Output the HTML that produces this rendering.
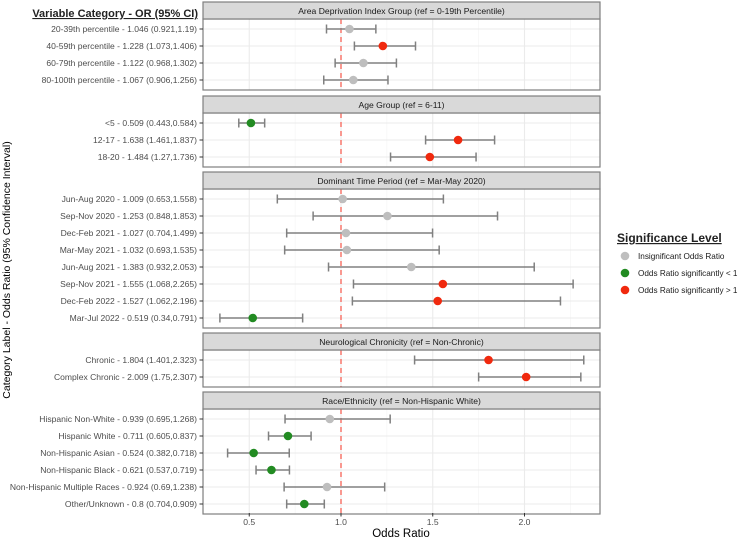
<!DOCTYPE html>
<html><head><meta charset="utf-8"><style>
body{margin:0;background:#fff;}
svg{display:block;font-family:"Liberation Sans",Arial,sans-serif;}
</style></head><body>
<svg id="c" width="740" height="539" viewBox="0 0 740 539"></svg>
<script>
const panelTitles=["Area Deprivation Index Group (ref = 0-19th Percentile)","Age Group (ref = 6-11)","Dominant Time Period (ref = Mar-May 2020)","Neurological Chronicity (ref = Non-Chronic)","Race/Ethnicity (ref = Non-Hispanic White)"];
const labels=[
["20-39th percentile","40-59th percentile","60-79th percentile","80-100th percentile"],
["<5","12-17","18-20"],
["Jun-Aug 2020","Sep-Nov 2020","Dec-Feb 2021","Mar-May 2021","Jun-Aug 2021","Sep-Nov 2021","Dec-Feb 2022","Mar-Jul 2022"],
["Chronic","Complex Chronic"],
["Hispanic Non-White","Hispanic White","Non-Hispanic Asian","Non-Hispanic Black","Non-Hispanic Multiple Races","Other/Unknown"]];
const orVals=[[1.046,1.228,1.122,1.067],[0.509,1.638,1.484],[1.009,1.253,1.027,1.032,1.383,1.555,1.527,0.519],[1.804,2.009],[0.939,0.711,0.524,0.621,0.924,0.8]];
const loVals=[[0.921,1.073,0.968,0.906],[0.443,1.461,1.27],[0.653,0.848,0.704,0.693,0.932,1.068,1.062,0.34],[1.401,1.75],[0.695,0.605,0.382,0.537,0.69,0.704]];
const hiVals=[[1.19,1.406,1.302,1.256],[0.584,1.837,1.736],[1.558,1.853,1.499,1.535,2.053,2.265,2.196,0.791],[2.323,2.307],[1.268,0.837,0.718,0.719,1.238,0.909]];
const loText=[["0.921","1.073","0.968","0.906"],["0.443","1.461","1.27"],["0.653","0.848","0.704","0.693","0.932","1.068","1.062","0.34"],["1.401","1.75"],["0.695","0.605","0.382","0.537","0.69","0.704"]];
const xTicks=[0.5,1.0,1.5,2.0];
const xMinor=[0.25,0.75,1.25,1.75,2.25];
const legendLabels=["Insignificant Odds Ratio","Odds Ratio significantly < 1","Odds Ratio significantly > 1"];

const NS="http://www.w3.org/2000/svg";
const svg=document.getElementById('c');
function el(t,a,p){const e=document.createElementNS(NS,t);for(const k in a)e.setAttribute(k,a[k]);(p||svg).appendChild(e);return e;}
const L=203,R=600;
const x=v=>341+(v-1)*183.5;
const colors={ns:"#bebebe",lo:"#228b22",hi:"#f0290e"};
const stripTop=[2,96,172,333,392];
const rowH=17;
let text=el('text',{x:198,y:17,'text-anchor':'end','font-size':11,'font-weight':'bold',fill:'#222','text-decoration':'underline'});
text.textContent="Variable Category - OR (95% CI)";



panelTitles.forEach((title,p)=>{
  const g=el('g',{});
  
  
  const st=stripTop[p], bt=st+17, n=labels[p].length;
  const bb=bt+(n-1)*rowH+20;
  el('rect',{x:L,y:bt,width:R-L,height:bb-bt,fill:'#fff'},g);
  xMinor.forEach(v=>{if(x(v)>L&&x(v)<R)el('line',{x1:x(v),x2:x(v),y1:bt,y2:bb,stroke:'#f2f2f2','stroke-width':0.6},g);});
  xTicks.forEach(v=>el('line',{x1:x(v),x2:x(v),y1:bt,y2:bb,stroke:'#ebebeb','stroke-width':1.1},g));
  for(let i=0;i<n;i++){const y=bt+10+i*rowH;el('line',{x1:L,x2:R,y1:y,y2:y,stroke:'#ebebeb','stroke-width':1.1},g);}
  el('line',{x1:x(1),x2:x(1),y1:bt,y2:bb,stroke:'#f8766d','stroke-width':1.5,'stroke-dasharray':'5,4'},g);
  for(let i=0;i<n;i++){
    const y=bt+10+i*rowH, o=orVals[p][i], lo=loVals[p][i], hi=hiVals[p][i];
    const r=el('g',{},g);
    
    
    el('line',{x1:x(lo),x2:x(hi),y1:y,y2:y,stroke:'#808080','stroke-width':1.5},r);
    el('line',{x1:x(lo),x2:x(lo),y1:y-4.5,y2:y+4.5,stroke:'#808080','stroke-width':1.5},r);
    el('line',{x1:x(hi),x2:x(hi),y1:y-4.5,y2:y+4.5,stroke:'#808080','stroke-width':1.5},r);
    const c=hi<1?colors.lo:(lo>1?colors.hi:colors.ns);
    el('circle',{cx:x(o),cy:y,r:4.3,fill:c},r);
    const t=el('text',{x:197,y:y+3.1,'text-anchor':'end','font-size':8.55,fill:'#4d4d4d'});
    t.textContent=labels[p][i]+" - "+o+" ("+loText[p][i]+","+hiVals[p][i]+")";
    
    
    el('line',{x1:199.5,x2:L,y1:y,y2:y,stroke:'#333','stroke-width':1});
  }
  el('rect',{x:L,y:bt,width:R-L,height:bb-bt,fill:'none',stroke:'#7f7f7f','stroke-width':1.2},g);
  el('rect',{x:L,y:st,width:R-L,height:17,fill:'#d9d9d9',stroke:'#7f7f7f','stroke-width':1.2},g);
  const s=el('text',{x:(L+R)/2,y:st+11.8,'text-anchor':'middle','font-size':8.6,fill:'#1a1a1a'},g);
  s.textContent=title;
  
  
});
xTicks.forEach(v=>{
  el('line',{x1:x(v),x2:x(v),y1:513,y2:516.5,stroke:'#333','stroke-width':1});
  const t=el('text',{x:x(v),y:525,'text-anchor':'middle','font-size':8.6,fill:'#4d4d4d'});
  t.textContent=v.toFixed(1);
  
  
});
let xt=el('text',{x:401,y:537,'text-anchor':'middle','font-size':11.5,fill:'#000'});
xt.textContent="Odds Ratio";


let yt=el('text',{x:0,y:0,transform:'translate(10,270) rotate(-90)','text-anchor':'middle','font-size':10.5,fill:'#000'});
yt.textContent="Category Label - Odds Ratio (95% Confidence Interval)";


const lg=el('g',{});


let lt=el('text',{x:617,y:242,'font-size':12,'font-weight':'bold',fill:'#222','text-decoration':'underline'},lg);
lt.textContent="Significance Level";


[colors.ns,colors.lo,colors.hi].forEach((c,i)=>{
  const y=256+i*17;
  const e=el('g',{},lg);
  
  
  el('circle',{cx:625,cy:y,r:4.3,fill:c},e);
  const t=el('text',{x:638,y:y+3,'font-size':8.2,fill:'#1a1a1a'},e);
  t.textContent=legendLabels[i];
});
</script>
</body></html>
